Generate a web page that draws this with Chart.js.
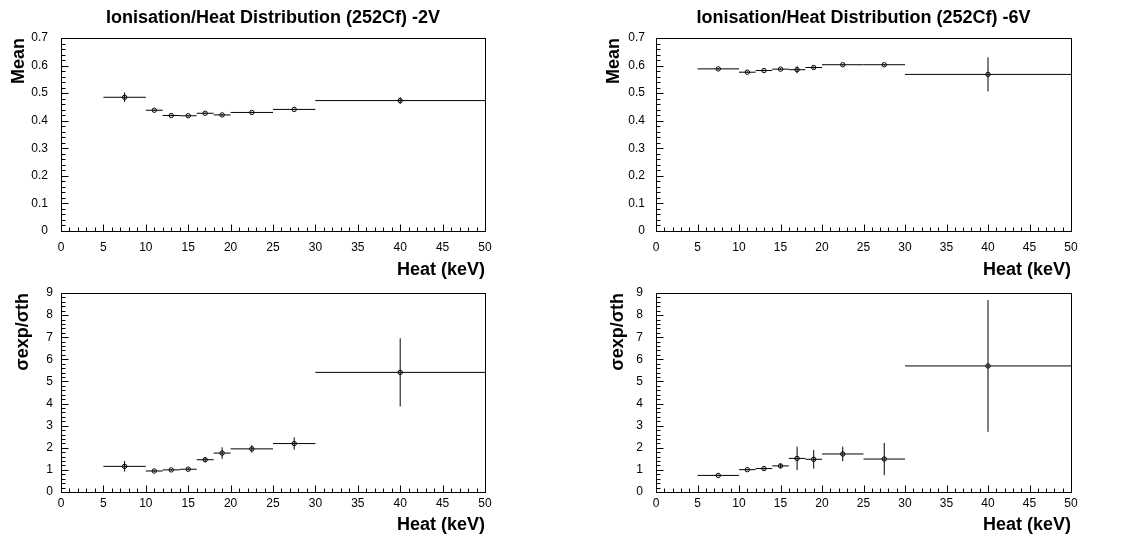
<!DOCTYPE html>
<html>
<head>
<meta charset="utf-8">
<script src="https://cdn.jsdelivr.net/npm/chart.js@4/dist/chart.umd.min.js"></script>
<style>
  html, body { margin: 0; padding: 0; background: #fff; }
  body { width: 1133px; height: 539px; position: relative; overflow: hidden; }
  canvas { position: absolute; }
</style>
</head>
<body>
<canvas id="meanMinus2" width="566" height="285" style="left:0px;top:0px"></canvas>
<canvas id="meanMinus6" width="567" height="285" style="left:566px;top:0px"></canvas>
<canvas id="sigmaMinus2" width="566" height="269" style="left:0px;top:270px"></canvas>
<canvas id="sigmaMinus6" width="567" height="269" style="left:566px;top:270px"></canvas>
<script>
// Heat bins (keV)
const binLow = [5, 10, 12, 14, 16, 18, 20, 25, 30];
const binHigh = [10, 12, 14, 16, 18, 20, 25, 30, 50];
const binCenter = [7.5, 11, 13, 15, 17, 19, 22.5, 27.5, 40];

// Mean ionisation/heat, -2V and -6V
const mean2V = [0.485, 0.438, 0.419, 0.418, 0.427, 0.421, 0.430, 0.441, 0.473];
const mean2VErr = [0.017, 0.003, 0.003, 0.003, 0.003, 0.003, 0.003, 0.003, 0.012];
const mean6V = [0.588, 0.576, 0.582, 0.587, 0.585, 0.593, 0.603, 0.603, 0.568];
const mean6VErr = [0.003, 0.003, 0.003, 0.003, 0.013, 0.004, 0.003, 0.003, 0.062];

// sigma exp / sigma th, -2V and -6V
const sigma2V = [1.16, 0.95, 1.00, 1.03, 1.46, 1.76, 1.95, 2.19, 5.41];
const sigma2VErr = [0.24, 0.04, 0.04, 0.05, 0.11, 0.26, 0.17, 0.28, 1.54];
const sigma6V = [0.75, 1.01, 1.06, 1.18, 1.52, 1.48, 1.72, 1.49, 5.70];
const sigma6VErr = [0.04, 0.04, 0.05, 0.10, 0.53, 0.42, 0.33, 0.73, 2.98];

const FONT = 'Liberation Sans, Arial, Helvetica, sans-serif';

// builds the bin-width and error segments, separated by gaps
function errorBarPoints(values, errors) {
  const pts = [];
  values.forEach((v, i) => {
    pts.push({ x: binLow[i], y: v }, { x: binHigh[i], y: v }, { x: binCenter[i], y: null });
    pts.push({ x: binCenter[i], y: v - errors[i] }, { x: binCenter[i], y: v + errors[i] }, { x: binCenter[i], y: null });
  });
  return pts;
}

// ROOT style frame with inward tick marks
const frameTicks = {
  id: 'frameTicks',
  beforeDatasetsDraw(chart, args, opts) {
    const { ctx, chartArea: a, scales: { x, y } } = chart;
    ctx.save();
    ctx.strokeStyle = '#000';
    ctx.lineWidth = 1;
    const L = Math.round(a.left) + 0.5, R = Math.round(a.right) + 0.5;
    const T = Math.round(a.top) + 0.5, B = Math.round(a.bottom) + 0.5;
    ctx.strokeRect(L, T, R - L, B - T);
    ctx.beginPath();
    const nx = Math.round((x.max - x.min) / opts.xMinor);
    for (let i = 0; i <= nx; i++) {
      const v = x.min + i * opts.xMinor;
      const px = Math.round(x.getPixelForValue(v)) + 0.5;
      const len = (i % Math.round(opts.xMajor / opts.xMinor) === 0) ? 7 : 4;
      ctx.moveTo(px, B);
      ctx.lineTo(px, B - len);
    }
    const ny = Math.round((y.max - y.min) / opts.yMinor);
    for (let i = 0; i <= ny; i++) {
      const v = y.min + i * opts.yMinor;
      const py = Math.round(y.getPixelForValue(v)) + 0.5;
      const len = (i % Math.round(opts.yMajor / opts.yMinor) === 0) ? 7 : 4;
      ctx.moveTo(L, py);
      ctx.lineTo(L + len, py);
    }
    ctx.stroke();
    ctx.restore();
  }
};

function renderPanel(id, values, errors, o) {
  const ctx = document.getElementById(id).getContext('2d');
  new Chart(ctx, {
    type: 'scatter',
    data: {
      datasets: [
        {
          data: errorBarPoints(values, errors),
          showLine: true,
          borderColor: '#000',
          borderWidth: 1,
          pointRadius: 0
        },
        {
          data: values.map((v, i) => ({ x: binCenter[i], y: v })),
          pointRadius: 2.2,
          pointBackgroundColor: '#fff',
          pointBorderColor: '#000',
          pointBorderWidth: 1
        }
      ]
    },
    options: {
      responsive: false,
      animation: false,
      layout: { padding: o.padding },
      plugins: {
        legend: { display: false },
        tooltip: { enabled: false },
        title: {
          display: !!o.title,
          text: o.title,
          fullSize: false,
          color: '#000',
          font: { family: FONT, size: 18, weight: 'bold' },
          padding: { top: 7, bottom: 9.4 }
        },
        frameTicks: { xMajor: 5, xMinor: 1, yMajor: o.yStep, yMinor: o.yMinor }
      },
      scales: {
        x: {
          type: 'linear',
          min: 0,
          max: 50,
          grid: { display: false, drawTicks: false },
          border: { display: false },
          ticks: { stepSize: 5, color: '#000', padding: o.xTickPad, font: { family: FONT, size: 12 } },
          title: {
            display: true,
            text: 'Heat (keV)',
            align: 'end',
            color: '#000',
            font: { family: FONT, size: 18, weight: 'bold' },
            padding: { top: 0, bottom: o.xTitlePad }
          },
          afterFit(scale) { scale.height = o.xHeight; }
        },
        y: {
          min: 0,
          max: o.yMax,
          grid: { display: false, drawTicks: false },
          border: { display: false },
          ticks: { stepSize: o.yStep, color: '#000', padding: o.yTickPad, font: { family: FONT, size: 12 } },
          title: {
            display: true,
            text: o.yTitle,
            align: 'end',
            color: '#000',
            font: { family: FONT, size: 18, weight: 'bold' },
            padding: { top: o.yTitlePad, bottom: 0 }
          },
          afterFit(scale) { scale.width = o.yWidth; }
        }
      }
    },
    plugins: [frameTicks]
  });
}

renderPanel('meanMinus2', mean2V, mean2VErr, {
  title: 'Ionisation/Heat Distribution (252Cf) -2V', yTitle: 'Mean',
  yMax: 0.7, yStep: 0.1, yMinor: 0.02,
  padding: { left: 0, right: 81, top: 0, bottom: 0 },
  yWidth: 61, xHeight: 54, xTickPad: 9, yTickPad: 13, xTitlePad: 4.2, yTitlePad: 8
});
renderPanel('meanMinus6', mean6V, mean6VErr, {
  title: 'Ionisation/Heat Distribution (252Cf) -6V', yTitle: 'Mean',
  yMax: 0.7, yStep: 0.1, yMinor: 0.02,
  padding: { left: 0, right: 62, top: 0, bottom: 0 },
  yWidth: 90, xHeight: 54, xTickPad: 9, yTickPad: 11, xTitlePad: 4.2, yTitlePad: 37
});
renderPanel('sigmaMinus2', sigma2V, sigma2VErr, {
  title: '', yTitle: 'σexp/σth',
  yMax: 9, yStep: 1, yMinor: 0.2,
  padding: { left: 0, right: 81, top: 23, bottom: 0 },
  yWidth: 61, xHeight: 47, xTickPad: 4, yTickPad: 8, xTitlePad: 3.2, yTitlePad: 12
});
renderPanel('sigmaMinus6', sigma6V, sigma6VErr, {
  title: '', yTitle: 'σexp/σth',
  yMax: 9, yStep: 1, yMinor: 0.2,
  padding: { left: 0, right: 62, top: 23, bottom: 0 },
  yWidth: 90, xHeight: 47, xTickPad: 4, yTickPad: 13, xTitlePad: 3.2, yTitlePad: 41
});
</script>
</body>
</html>
